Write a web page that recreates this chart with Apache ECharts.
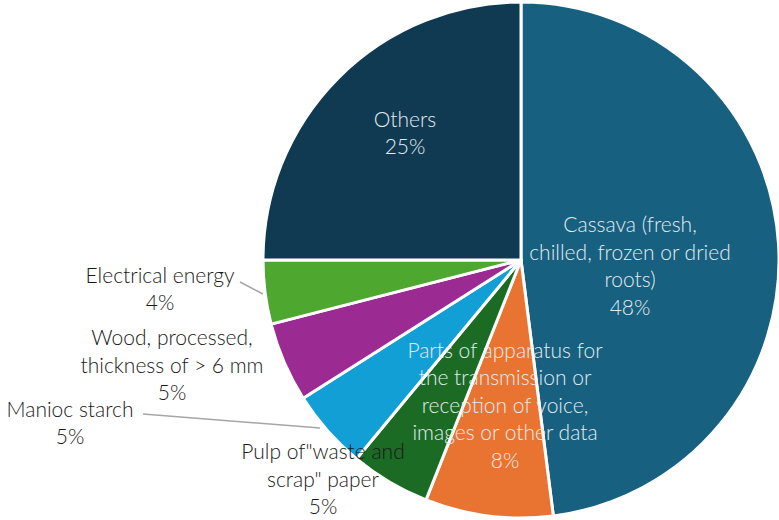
<!DOCTYPE html>
<html>
<head>
<meta charset="utf-8">
<script src="https://cdn.jsdelivr.net/npm/echarts@6/dist/echarts.min.js"></script>
<style>
  html, body { margin: 0; padding: 0; background: #fff; }
  #chart { width: 779px; height: 520px; }
</style>
</head>
<body>
<div id="chart"></div>
<script>
// ── Data ───────────────────────────────────────────────────────────────
const categories = [
  'Cassava (fresh,\nchilled, frozen or dried\nroots)',
  'Parts of apparatus for\nthe transmission or\nreception of voice,\nimages or other data',
  'Pulp of"waste and\nscrap" paper',
  'Manioc starch',
  'Wood, processed,\nthickness of > 6 mm',
  'Electrical energy',
  'Others'
];
const shares = [48, 8, 5, 5, 5, 4, 25];

// ── Styling ────────────────────────────────────────────────────────────
const colors = ['#17607f', '#e97432', '#1b6b25', '#119fd6', '#9b2b93', '#4ea82f', '#0f3a52'];
const insideLabel = [true, true, false, false, false, false, true];
const fontFamily = 'Lato, "Open Sans", sans-serif';

// label anchor (centre of text block) and optional leader line
const labelSpots = [
  { x: 630, y: 265 },
  { x: 505, y: 404 },
  { x: 323, y: 478 },
  { x: 70,  y: 422, line: [[143, 414], [320, 428]] },
  { x: 172, y: 364 },
  { x: 160, y: 288, line: [[240, 282], [263, 294]] },
  { x: 405, y: 132 }
];

const chart = echarts.init(document.getElementById('chart'), null, { renderer: 'svg' });

chart.setOption({
  animation: false,
  series: [{
    type: 'pie',
    center: [521, 260],
    radius: [0, 258],
    startAngle: 90,
    clockwise: true,
    avoidLabelOverlap: false,
    itemStyle: { borderColor: '#fff', borderWidth: 3 },
    label: {
      show: true,
      position: 'outside',
      fontFamily: fontFamily,
      fontWeight: 300,
      fontSize: 21,
      lineHeight: 27.5,
      align: 'center',
      formatter: (p) => p.name + '\n' + p.value + '%'
    },
    labelLine: { show: true, lineStyle: { color: '#a6a6a6', width: 1.5 } },
    labelLayout: (p) => {
      const s = labelSpots[p.dataIndex];
      const out = { x: s.x, y: s.y, align: 'center', verticalAlign: 'middle' };
      if (s.line) out.labelLinePoints = [s.line[0], s.line[0], s.line[1]];
      return out;
    },
    data: categories.map((name, i) => ({
      name: name,
      value: shares[i],
      itemStyle: { color: colors[i] },
      label: { color: insideLabel[i] ? '#e3ebf0' : '#1a1a1a' },
      labelLine: { show: !!labelSpots[i].line }
    }))
  }]
});
</script>
</body>
</html>
